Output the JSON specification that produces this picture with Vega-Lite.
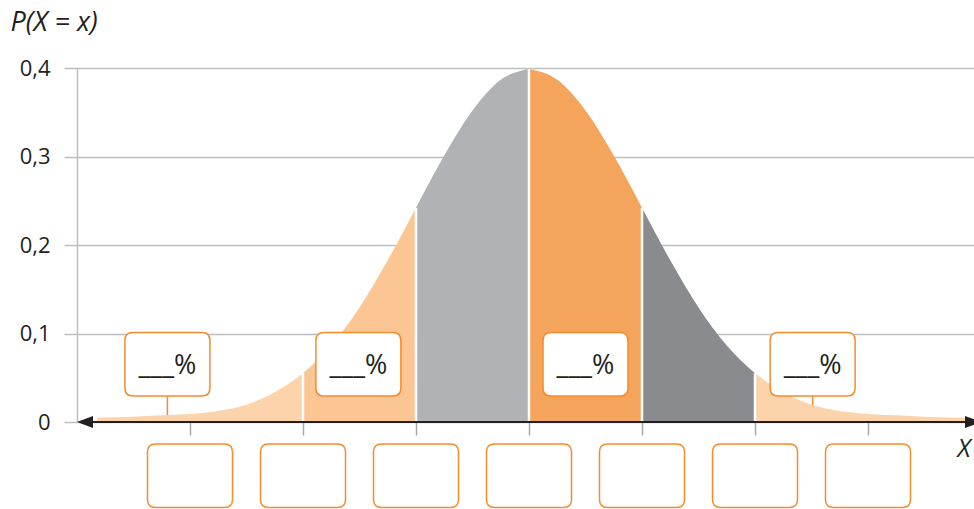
{
  "$schema": "https://vega.github.io/schema/vega-lite/v6.json",
  "width": 897,
  "height": 354,
  "autosize": {"type": "none"},
  "padding": {"left": 77, "top": 68, "right": 0, "bottom": 87},
  "background": "white",
  "config": {"view": {"stroke": null}},
  "encoding": {
    "x": {
      "field": "x", "type": "quantitative",
      "scale": {"domain": [-4, 3.938], "nice": false, "zero": false},
      "axis": {
        "values": [-3, -2, -1, 0, 1, 2, 3], "labels": false, "grid": false, "domain": false,
        "tickColor": "#A7A9AC", "tickSize": 13, "tickWidth": 1.5,
        "title": "X", "titleFont": "Open Sans", "titleFontStyle": "italic", "titleFontWeight": "normal",
        "titleFontSize": 25, "titleColor": "#231F20", "titleX": 880, "titleY": 34,
        "titleAlign": "left", "titleBaseline": "alphabetic", "titleAngle": 0
      }
    },
    "y": {
      "field": "y", "type": "quantitative",
      "scale": {"domain": [0, 0.4], "nice": false, "zero": false},
      "axis": {
        "values": [0, 0.1, 0.2, 0.3, 0.4], "format": ".1~f",
        "labelExpr": "replace(datum.label, '.', ',')",
        "grid": true, "gridColor": "#BDBEC0", "gridWidth": 1.5,
        "domain": true, "domainColor": "#BDBEC0", "domainWidth": 1.5,
        "tickColor": "#BDBEC0", "tickSize": 13, "tickWidth": 1.5,
        "labelPadding": 14, "labelFont": "Open Sans", "labelFontSize": 22, "labelColor": "#231F20",
        "title": "P(X = x)", "titleFont": "Open Sans", "titleFontStyle": "italic", "titleFontWeight": "normal",
        "titleFontSize": 27, "titleColor": "#231F20", "titleAngle": 0, "titleX": -67, "titleY": -38,
        "titleAlign": "left", "titleBaseline": "alphabetic"
      }
    }
  },
  "layer": [
    {
      "data": {"values": [
        {"seg": "A", "x": -3.82, "y": 0.005},
        {"seg": "A", "x": -3.5, "y": 0.006},
        {"seg": "A", "x": -3.2, "y": 0.0078},
        {"seg": "A", "x": -3.0, "y": 0.009},
        {"seg": "A", "x": -2.75, "y": 0.0125},
        {"seg": "A", "x": -2.5, "y": 0.0195},
        {"seg": "A", "x": -2.25, "y": 0.0335},
        {"seg": "A", "x": -2.0, "y": 0.055},
        {"seg": "B", "x": -2.0, "y": 0.055},
        {"seg": "B", "x": -1.75, "y": 0.0865},
        {"seg": "B", "x": -1.5, "y": 0.1295},
        {"seg": "B", "x": -1.25, "y": 0.1827},
        {"seg": "B", "x": -1.0, "y": 0.242},
        {"seg": "C", "x": -1.0, "y": 0.242},
        {"seg": "C", "x": -0.75, "y": 0.3011},
        {"seg": "C", "x": -0.5, "y": 0.3521},
        {"seg": "C", "x": -0.25, "y": 0.3867},
        {"seg": "C", "x": 0.0, "y": 0.3989},
        {"seg": "D", "x": 0.0, "y": 0.3989},
        {"seg": "D", "x": 0.25, "y": 0.3867},
        {"seg": "D", "x": 0.5, "y": 0.3521},
        {"seg": "D", "x": 0.75, "y": 0.3011},
        {"seg": "D", "x": 1.0, "y": 0.242},
        {"seg": "E", "x": 1.0, "y": 0.242},
        {"seg": "E", "x": 1.25, "y": 0.1827},
        {"seg": "E", "x": 1.5, "y": 0.1295},
        {"seg": "E", "x": 1.75, "y": 0.0865},
        {"seg": "E", "x": 2.0, "y": 0.055},
        {"seg": "F", "x": 2.0, "y": 0.055},
        {"seg": "F", "x": 2.25, "y": 0.0335},
        {"seg": "F", "x": 2.5, "y": 0.0195},
        {"seg": "F", "x": 2.75, "y": 0.0125},
        {"seg": "F", "x": 3.0, "y": 0.009},
        {"seg": "F", "x": 3.25, "y": 0.0075},
        {"seg": "F", "x": 3.5, "y": 0.006},
        {"seg": "F", "x": 3.92, "y": 0.0045}
      ]},
      "mark": {"type": "area", "interpolate": "monotone"},
      "encoding": {
        "y": {"field": "y", "type": "quantitative", "stack": null},
        "color": {
          "field": "seg", "type": "nominal", "legend": null,
          "scale": {"domain": ["A", "B", "C", "D", "E", "F"],
                    "range": ["#FDD3AC", "#FCC594", "#B1B2B5", "#F5A45B", "#8A8B8E", "#FDD3AC"]}
        }
      }
    },
    {
      "data": {"values": [
        {"x": -2, "y": 0, "y2": 0.055},
        {"x": -1, "y": 0, "y2": 0.242},
        {"x": 0, "y": 0, "y2": 0.3989},
        {"x": 1, "y": 0, "y2": 0.242},
        {"x": 2, "y": 0, "y2": 0.055}
      ]},
      "mark": {"type": "rule", "color": "white", "strokeWidth": 2.5},
      "encoding": {"y2": {"field": "y2"}}
    },
    {
      "data": {"values": [{"x": -3.9, "x2": 3.95, "y": 0}]},
      "mark": {"type": "rule", "color": "#231F20", "strokeWidth": 2},
      "encoding": {"x2": {"field": "x2"}}
    },
    {
      "data": {"values": [{"dir": "l", "x": -4, "y": 0}, {"dir": "r", "x": 4, "y": 0}]},
      "mark": {"type": "point", "filled": true, "size": 1024, "color": "#231F20", "opacity": 1},
      "encoding": {
        "shape": {"field": "dir", "type": "nominal", "legend": null,
                  "scale": {"domain": ["l", "r"], "range": ["M 0 0 L 1 -0.375 L 1 0.375 Z", "M 0 0 L -1 -0.375 L -1 0.375 Z"]}}
      }
    },
    {
      "data": {"values": [{"x": -3.2, "y": 0.029, "y2": 0.0078}, {"x": 2.51, "y": 0.029, "y2": 0.0192}]},
      "mark": {"type": "rule", "color": "#F68B2C", "strokeWidth": 1.5},
      "encoding": {"y2": {"field": "y2"}}
    },
    {
      "data": {"values": [
        {"x": -3.2, "y": 0.0652}, {"x": -1.51, "y": 0.0652}, {"x": 0.5, "y": 0.0652}, {"x": 2.51, "y": 0.0652}
      ]},
      "layer": [
        {
          "mark": {"type": "point", "filled": true, "fill": "white", "stroke": "#F68B2C", "strokeWidth": 1.5, "opacity": 1, "size": 7225,
                   "shape": "M -0.81 -0.747 L 0.81 -0.747 Q 1 -0.747 1 -0.557 L 1 0.557 Q 1 0.747 0.81 0.747 L -0.81 0.747 Q -1 0.747 -1 0.557 L -1 -0.557 Q -1 -0.747 -0.81 -0.747 Z"}
        },
        {
          "mark": {"type": "text", "text": "___%", "font": "Open Sans", "fontSize": 27, "color": "#231F20", "baseline": "middle", "align": "center", "dy": 2}
        }
      ]
    },
    {
      "data": {"values": [
        {"x": -3, "y": -0.0608}, {"x": -2, "y": -0.0608}, {"x": -1, "y": -0.0608}, {"x": 0, "y": -0.0608},
        {"x": 1, "y": -0.0608}, {"x": 2, "y": -0.0608}, {"x": 3, "y": -0.0608}
      ]},
      "mark": {"type": "point", "filled": true, "fill": "white", "stroke": "#F68B2C", "strokeWidth": 1.5, "opacity": 1, "size": 7225,
               "shape": "M -0.81 -0.747 L 0.81 -0.747 Q 1 -0.747 1 -0.557 L 1 0.557 Q 1 0.747 0.81 0.747 L -0.81 0.747 Q -1 0.747 -1 0.557 L -1 -0.557 Q -1 -0.747 -0.81 -0.747 Z"}
    }
  ]
}
